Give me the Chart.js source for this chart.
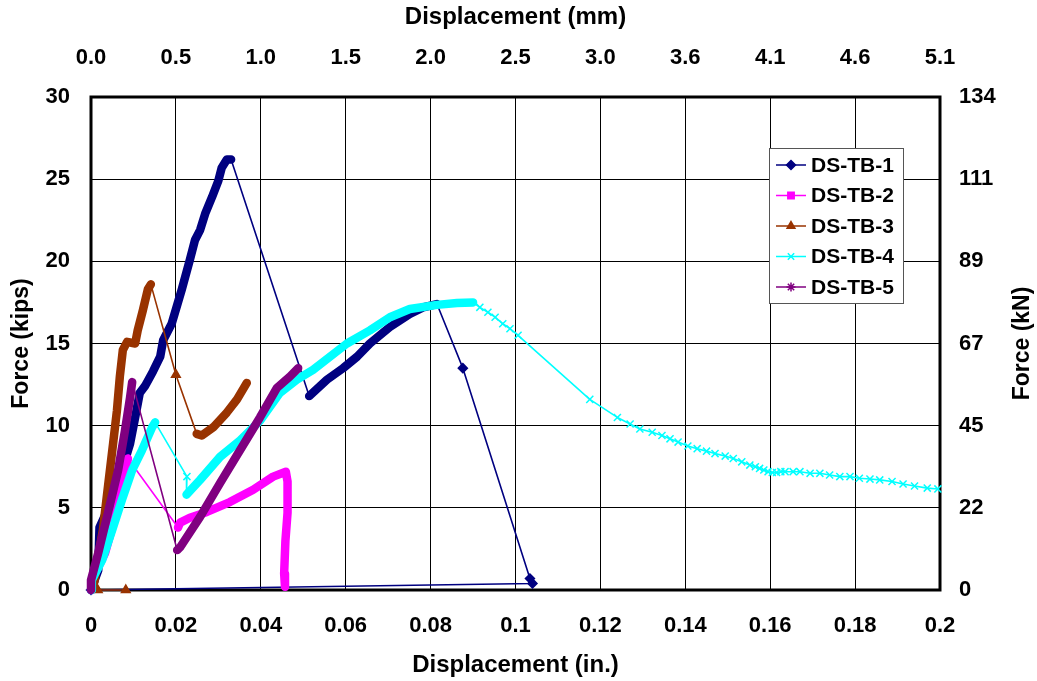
<!DOCTYPE html>
<html lang="en">
<head>
    <meta charset="UTF-8">
    <title>Force vs Displacement</title>
    <script src="https://cdn.jsdelivr.net/npm/chart.js"></script>
    <style>
        body { margin: 0; background: #fff; }
        #wrap { width: 1037px; height: 681px; }
    </style>
</head>
<body>
    <div id="wrap"><canvas id="chart" width="1037" height="681"></canvas></div>

    <script>
        // Displacement (in.) / Force (kips)
        const tb1X = [0, 0.0017, 0.002, 0.005, 0.0073, 0.0092, 0.0104, 0.0115, 0.0127, 0.0146, 0.0163, 0.017, 0.019, 0.0214, 0.0233, 0.0245, 0.0257, 0.0269, 0.0285, 0.03, 0.0308, 0.032, 0.033,
                      0.0514, 0.0556, 0.0594, 0.0627, 0.0657, 0.0704, 0.0751, 0.0782, 0.0815, 0.0876, 0.1034, 0.104, 0];
        const tb1Y = [0, 1.2, 3.8, 5.5, 7.3, 8.9, 10.5, 12.0, 12.4, 13.3, 14.2, 15.2, 16.2, 18.3, 20.1, 21.3, 21.9, 22.9, 23.9, 24.9, 25.7, 26.2, 26.2,
                      11.8, 12.8, 13.5, 14.2, 15.0, 16.0, 16.8, 17.2, 17.4, 13.5, 0.7, 0.4, 0];
        const tb1Dense = [[0, 22], [23, 31]];

        const tb2X = [0, 0.0002, 0.0033, 0.0057, 0.0075, 0.0087, 0.0205, 0.021, 0.0233, 0.0273, 0.0327, 0.0382, 0.0429, 0.0459, 0.0463, 0.0463, 0.0458, 0.0455, 0.0457];
        const tb2Y = [0, 0.6, 2.25, 4.45, 6.5, 8.0, 3.8, 4.1, 4.4, 4.75, 5.35, 6.1, 6.9, 7.2, 6.6, 4.7, 3.0, 1.0, 0.2];
        const tb2Dense = [[0, 5], [6, 18]];

        const tb3X = [0.0082, 0.0016, 0.0008, 0.0014, 0.0028, 0.004, 0.0052, 0.0061, 0.0068, 0.0075, 0.0085, 0.0104, 0.011, 0.0122, 0.0134, 0.0141,
                      0.02, 0.0249, 0.0261, 0.0288, 0.032, 0.0344, 0.0367];
        const tb3Y = [0, 0, 0.5, 1.6, 3.65, 6.3, 8.9, 10.9, 13.0, 14.6, 15.1, 15.0, 15.8, 17.0, 18.3, 18.6,
                      13.1, 9.5, 9.4, 9.9, 10.8, 11.6, 12.6];
        const tb3Dense = [[2, 15], [17, 22]];

        const tb4X = [0, 0.0002, 0.0026, 0.005, 0.0073, 0.0097, 0.012, 0.0144, 0.0151, 0.0226,
                      0.0225, 0.0257, 0.0304, 0.0351, 0.0398, 0.0445, 0.0485, 0.0523, 0.0603, 0.0657, 0.0704, 0.0751, 0.0815, 0.0862, 0.09,
                      0.0916, 0.0935, 0.0952, 0.097, 0.0987, 0.1006, 0.1175, 0.124, 0.127, 0.1293, 0.1322, 0.1345, 0.1364, 0.1383, 0.1406,
                      0.1428, 0.145, 0.147, 0.1494, 0.1513, 0.1533, 0.1552, 0.1565, 0.1575, 0.1585, 0.1595, 0.1605, 0.1615, 0.1625, 0.1635,
                      0.1654, 0.167, 0.1694, 0.1717, 0.174, 0.1764, 0.1788, 0.181, 0.1835, 0.1858, 0.1887, 0.1913, 0.194, 0.197, 0.1995];
        const tb4Y = [0, 0.6, 1.8, 3.65, 5.5, 7.3, 8.5, 9.9, 10.2, 6.9,
                      5.8, 6.7, 8.1, 9.1, 10.3, 12.0, 12.8, 13.4, 15.0, 15.8, 16.6, 17.1, 17.35, 17.46, 17.5,
                      17.2, 16.9, 16.6, 16.2, 15.9, 15.5, 11.6, 10.5, 10.1, 9.8, 9.6, 9.4, 9.2, 9.0, 8.76,
                      8.6, 8.45, 8.3, 8.15, 8.0, 7.8, 7.6, 7.5, 7.4, 7.3, 7.2, 7.15, 7.15, 7.2, 7.2,
                      7.2, 7.2, 7.1, 7.1, 7.0, 6.9, 6.9, 6.8, 6.75, 6.7, 6.6, 6.45, 6.33, 6.2, 6.15];
        const tb4Dense = [[0, 8], [10, 24]];

        const tb5X = [0, 0, 0.0017, 0.004, 0.0064, 0.008, 0.0092, 0.0097, 0.0203, 0.021, 0.0257, 0.0304, 0.0351, 0.0398, 0.0438, 0.0469, 0.0488];
        const tb5Y = [0, 0.6, 2.25, 4.7, 7.3, 9.7, 11.7, 12.65, 2.43, 2.6, 4.45, 6.5, 8.5, 10.5, 12.3, 13.0, 13.5];
        const tb5Dense = [[0, 7], [8, 16]];

        // tick labels of the secondary axes
        const mmLabels = ['0.0', '0.5', '1.0', '1.5', '2.0', '2.5', '3.0', '3.6', '4.1', '4.6', '5.1'];
        const kNLabels = ['0', '22', '45', '67', '89', '111', '134'];

        const FONT = "'Liberation Sans', Arial, Helvetica, sans-serif";

        function makeSeries(label, xs, ys, dense, color, pointStyle, radius, order) {
            const inDense = i => dense.some(r => i >= r[0] && i <= r[1]);
            const thick = i => dense.some(r => i >= r[0] && i < r[1]);
            return {
                label: label,
                data: xs.map((x, i) => ({ x: x, y: ys[i] })),
                showLine: true,
                clip: 8,
                borderColor: color,
                backgroundColor: color,
                borderWidth: 1.5,
                borderCapStyle: 'round',
                borderJoinStyle: 'round',
                pointStyle: pointStyle,
                pointRadius: ctx => inDense(ctx.dataIndex) ? 0 : radius,
                pointBorderColor: color,
                pointBackgroundColor: color,
                pointBorderWidth: 1.5,
                order: order,
                segment: {
                    borderWidth: ctx => thick(ctx.p0DataIndex) ? 8.5 : 1.6
                }
            };
        }

        const datasets = [
            makeSeries('DS-TB-1', tb1X, tb1Y, tb1Dense, '#000080', 'rectRot', 4.5, 5),
            makeSeries('DS-TB-2', tb2X, tb2Y, tb2Dense, '#FF00FF', 'rect', 4, 4),
            makeSeries('DS-TB-3', tb3X, tb3Y, tb3Dense, '#993300', 'triangle', 5, 3),
            makeSeries('DS-TB-4', tb4X, tb4Y, tb4Dense, '#00FFFF', 'crossRot', 5, 2),
            makeSeries('DS-TB-5', tb5X, tb5Y, tb5Dense, '#800080', 'star', 5, 1)
        ];

        // black frame round the plot area
        const framePlugin = {
            id: 'frame',
            beforeDatasetsDraw(chart) {
                const a = chart.chartArea;
                const ctx = chart.ctx;
                ctx.save();
                ctx.strokeStyle = '#000';
                ctx.lineWidth = 3;
                ctx.strokeRect(a.left, a.top, a.right - a.left, a.bottom - a.top);
                ctx.restore();
            }
        };

        // legend box inside the plot, upper right, and the kN axis title (reads upwards)
        const legendPlugin = {
            id: 'boxLegend',
            afterDatasetsDraw(chart) {
                const ctx = chart.ctx;
                const bx = 769, by = 148, bw = 134, bh = 155;
                ctx.save();
                ctx.fillStyle = '#fff';
                ctx.fillRect(bx, by, bw, bh);
                ctx.strokeStyle = '#555';
                ctx.lineWidth = 1;
                ctx.strokeRect(bx + 0.5, by + 0.5, bw, bh);
                ctx.font = 'bold 21px ' + FONT;
                ctx.textBaseline = 'middle';
                chart.data.datasets.forEach((ds, i) => {
                    const y = by + 17 + i * 30.5;
                    ctx.strokeStyle = ds.borderColor;
                    ctx.fillStyle = ds.borderColor;
                    ctx.lineWidth = 1.5;
                    ctx.beginPath();
                    ctx.moveTo(776, y);
                    ctx.lineTo(806, y);
                    ctx.stroke();
                    Chart.helpers.drawPoint(ctx, { pointStyle: ds.pointStyle, radius: 4.5, rotation: 0, borderWidth: 1.5 }, 791, y);
                    ctx.fillStyle = '#000';
                    ctx.fillText(ds.label, 811, y + 1);
                });

                const a = chart.chartArea;
                ctx.translate(1023, (a.top + a.bottom) / 2);
                ctx.rotate(-Math.PI / 2);
                ctx.font = 'bold 23px ' + FONT;
                ctx.fillStyle = '#000';
                ctx.textAlign = 'center';
                ctx.fillText('Force (kN)', 0, 0);
                ctx.restore();
            }
        };

        const tickFont = { family: FONT, size: 22, weight: 'bold' };
        const titleFont = { family: FONT, size: 24, weight: 'bold' };
        const yTitleFont = { family: FONT, size: 23, weight: 'bold' };

        new Chart(document.getElementById('chart').getContext('2d'), {
            type: 'scatter',
            data: { datasets: datasets },
            plugins: [framePlugin, legendPlugin],
            options: {
                responsive: false,
                animation: false,
                layout: { padding: 0 },
                plugins: {
                    legend: { display: false },
                    tooltip: { enabled: false }
                },
                elements: { line: { tension: 0 } },
                scales: {
                    x: {
                        type: 'linear', position: 'bottom', min: 0, max: 0.2,
                        afterFit: s => { s.height = 91; },
                        border: { display: false },
                        grid: { color: '#000', lineWidth: 1, drawTicks: false },
                        ticks: {
                            stepSize: 0.02, autoSkip: false, maxRotation: 0, padding: 23,
                            color: '#000', font: tickFont,
                            callback: v => String(+v.toFixed(2))
                        },
                        title: { display: true, text: 'Displacement (in.)', color: '#000', font: titleFont, padding: { top: 0, bottom: 1 } }
                    },
                    x2: {
                        type: 'linear', position: 'top', min: 0, max: 0.2,
                        afterFit: s => { s.height = 97; },
                        border: { display: false },
                        grid: { display: false, drawTicks: false },
                        ticks: {
                            stepSize: 0.02, autoSkip: false, maxRotation: 0, padding: 26,
                            color: '#000', font: tickFont,
                            callback: (v, i) => mmLabels[i]
                        },
                        title: { display: true, text: 'Displacement (mm)', color: '#000', font: titleFont, padding: { top: 3, bottom: 0 } }
                    },
                    y: {
                        type: 'linear', position: 'left', min: 0, max: 30,
                        afterFit: s => { s.width = 91; },
                        border: { display: false },
                        grid: { color: '#000', lineWidth: 1, drawTicks: false },
                        ticks: { stepSize: 5, padding: 21, color: '#000', font: tickFont },
                        title: { display: true, text: 'Force (kips)', color: '#000', font: yTitleFont, padding: { top: 8, bottom: 0 } }
                    },
                    y2: {
                        type: 'linear', position: 'right', min: 0, max: 30,
                        afterFit: s => { s.width = 97; },
                        border: { display: false },
                        grid: { display: false, drawTicks: false },
                        ticks: {
                            stepSize: 5, padding: 19, color: '#000', font: tickFont,
                            callback: (v, i) => kNLabels[i]
                        },
                        title: { display: false }
                    }
                }
            }
        });
    </script>
</body>
</html>
